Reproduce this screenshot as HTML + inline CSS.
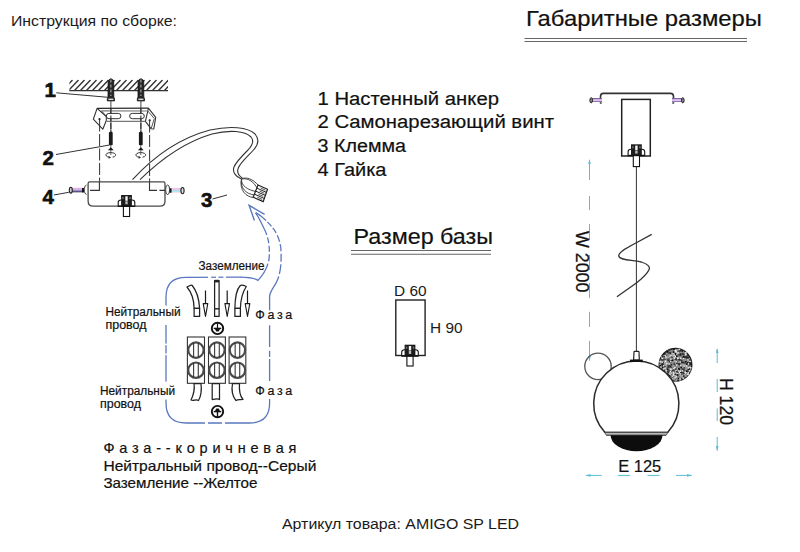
<!DOCTYPE html>
<html><head><meta charset="utf-8">
<style>
html,body{margin:0;padding:0;background:#fff;}
svg{display:block;font-family:"Liberation Sans",sans-serif;}
</style></head><body>
<svg width="800" height="552" viewBox="0 0 800 552">
<rect width="800" height="552" fill="#fff"/>
<line x1="524.5" y1="38.5" x2="747" y2="38.5" stroke="#666" stroke-width="1.1"/>
<line x1="524.5" y1="41.5" x2="747" y2="41.5" stroke="#666" stroke-width="1.1"/>
<line x1="351" y1="250.5" x2="491" y2="250.5" stroke="#666" stroke-width="1.1"/>
<line x1="351" y1="254.2" x2="491" y2="254.2" stroke="#666" stroke-width="1.1"/>
<rect x="395.8" y="300" width="29.3" height="55.5" fill="none" stroke="#222" stroke-width="1.4"/>
<rect x="406.9" y="355.7" width="6.2" height="10.300000000000011" fill="#fff" stroke="#111" stroke-width="1.1"/>
<path d="M401.7,355.9 L401.7,352.2 Q401.7,349.7 404.5,349.7 L415.5,349.7 Q418.3,349.7 418.3,352.2 L418.3,355.9 Z" fill="#fff" stroke="#111" stroke-width="1.1"/>
<rect x="404.6" y="344.7" width="10.8" height="11.5" fill="#1c1c1c"/>
<rect x="408.8" y="346.0" width="2.4" height="4.5" fill="#f4f4f4"/>
<rect x="408.8" y="351.0" width="2.4" height="3.0" fill="#bbb"/>
<rect x="405.8" y="346.7" width="1.4" height="2.0" fill="#777"/>
<rect x="412.8" y="346.7" width="1.4" height="2.0" fill="#777"/>
<line x1="401.7" y1="355.9" x2="418.3" y2="355.9" stroke="#111" stroke-width="1.4"/>
<path d="M600.5,98.5 L600.5,96.5 Q600.5,93.4 603.5,93.4 L670.5,93.4 Q673.5,93.4 673.5,96.5 L673.5,98.5" fill="none" stroke="#333" stroke-width="1.6"/>
<linearGradient id="pg" x1="0" y1="0" x2="0" y2="1"><stop offset="0" stop-color="#4a2a6a"/><stop offset="0.3" stop-color="#c8a8e8"/><stop offset="0.65" stop-color="#e0c8f0"/><stop offset="1" stop-color="#5a3a7a"/></linearGradient>
<linearGradient id="pg2" x1="0" y1="0" x2="0" y2="1"><stop offset="0" stop-color="#f0b0dc"/><stop offset="0.45" stop-color="#c8b4f0"/><stop offset="1" stop-color="#2a2050"/></linearGradient>
<linearGradient id="cg" x1="0" y1="0" x2="0" y2="1"><stop offset="0" stop-color="#f2b8dc"/><stop offset="0.3" stop-color="#f0c8e8"/><stop offset="0.5" stop-color="#a8dcec"/><stop offset="0.8" stop-color="#b8e4f0"/><stop offset="1" stop-color="#e8b0d0"/></linearGradient>
<rect x="591.5" y="98.1" width="10.5" height="3.8" fill="url(#pg)"/>
<ellipse cx="591.2" cy="100.3" rx="1.3" ry="2.6" fill="#888" stroke="#222" stroke-width="1"/>
<ellipse cx="600.8" cy="103" rx="1.2" ry="0.7" fill="#222"/>
<rect x="672" y="98.1" width="10.5" height="3.8" fill="url(#pg)"/>
<ellipse cx="682.8" cy="100.3" rx="1.3" ry="2.6" fill="#888" stroke="#222" stroke-width="1"/>
<ellipse cx="673.2" cy="103" rx="1.2" ry="0.7" fill="#222"/>
<rect x="621.7" y="99.4" width="28.6" height="56.6" fill="none" stroke="#222" stroke-width="1.5"/>
<line x1="636.4" y1="160" x2="636.4" y2="351.5" stroke="#333" stroke-width="1"/>
<rect x="633.3" y="155.3" width="6.2" height="11.299999999999983" fill="#fff" stroke="#111" stroke-width="1.1"/>
<path d="M628.1,155.5 L628.1,151.8 Q628.1,149.3 630.9,149.3 L641.9,149.3 Q644.6999999999999,149.3 644.6999999999999,151.8 L644.6999999999999,155.5 Z" fill="#fff" stroke="#111" stroke-width="1.1"/>
<rect x="631.0" y="144.3" width="10.8" height="11.5" fill="#1c1c1c"/>
<rect x="635.1999999999999" y="145.60000000000002" width="2.4" height="4.5" fill="#f4f4f4"/>
<rect x="635.1999999999999" y="150.60000000000002" width="2.4" height="3.0" fill="#bbb"/>
<rect x="632.1999999999999" y="146.3" width="1.4" height="2.0" fill="#777"/>
<rect x="639.1999999999999" y="146.3" width="1.4" height="2.0" fill="#777"/>
<line x1="628.1" y1="155.5" x2="644.6999999999999" y2="155.5" stroke="#111" stroke-width="1.4"/>
<path d="M651.7,234.4 L636.4,242.7 C628,247.2 618,252 618.8,256.2 C619.6,260.4 633,259.8 641.2,262 C648,264 650.5,267 648.9,270 C647,274 642,278.5 636.4,283 L616.9,296.7" fill="none" stroke="#333" stroke-width="1.3"/>
<line x1="589.5" y1="160" x2="589.5" y2="180" stroke="#5bbcd6" stroke-width="1"/>
<line x1="589.5" y1="196" x2="589.5" y2="210" stroke="#5bbcd6" stroke-width="1"/>
<line x1="589.5" y1="224" x2="589.5" y2="240" stroke="#5bbcd6" stroke-width="1"/>
<line x1="589.5" y1="255" x2="589.5" y2="270" stroke="#5bbcd6" stroke-width="1"/>
<line x1="589.5" y1="283" x2="589.5" y2="298" stroke="#5bbcd6" stroke-width="1"/>
<line x1="589.5" y1="311.8" x2="589.5" y2="327" stroke="#5bbcd6" stroke-width="1"/>
<line x1="589.5" y1="340.8" x2="589.5" y2="360.7" stroke="#5bbcd6" stroke-width="1"/>
<path d="M589.5,159 L588.2,164 L590.8,164 Z" fill="#5bbcd6"/>
<path d="M589.5,361 L588.2,356 L590.8,356 Z" fill="#5bbcd6"/>
<line x1="717.2" y1="349" x2="717.2" y2="363" stroke="#5bbcd6" stroke-width="1"/>
<line x1="717.2" y1="379" x2="717.2" y2="392" stroke="#5bbcd6" stroke-width="1"/>
<line x1="717.2" y1="408.5" x2="717.2" y2="421" stroke="#5bbcd6" stroke-width="1"/>
<line x1="717.2" y1="437" x2="717.2" y2="450.7" stroke="#5bbcd6" stroke-width="1"/>
<path d="M717.2,348 L715.9000000000001,353 L718.5,353 Z" fill="#5bbcd6"/>
<path d="M717.2,451 L715.9000000000001,446 L718.5,446 Z" fill="#5bbcd6"/>
<line x1="586" y1="475.4" x2="601.7" y2="475.4" stroke="#5bbcd6" stroke-width="1"/>
<line x1="618" y1="475.4" x2="630" y2="475.4" stroke="#5bbcd6" stroke-width="1"/>
<line x1="647.5" y1="475.4" x2="659.5" y2="475.4" stroke="#5bbcd6" stroke-width="1"/>
<line x1="676" y1="475.4" x2="691.7" y2="475.4" stroke="#5bbcd6" stroke-width="1"/>
<path d="M585.5,475.4 L590.5,474.09999999999997 L590.5,476.7 Z" fill="#5bbcd6"/>
<path d="M692,475.4 L687,474.09999999999997 L687,476.7 Z" fill="#5bbcd6"/>
<circle cx="598" cy="366.4" r="13.2" fill="none" stroke="#555" stroke-width="1.3"/>
<circle cx="675.5" cy="364.8" r="16.3" fill="#808080" stroke="#222" stroke-width="1.4"/>
<g><rect x="669.0" y="352.6" width="1.6" height="1.6" fill="#999"/><rect x="661.5" y="366.7" width="1.6" height="1.6" fill="#eee"/><rect x="672.0" y="355.5" width="1.6" height="1.6" fill="#eee"/><rect x="672.2" y="374.7" width="1.6" height="1.6" fill="#111"/><rect x="689.3" y="368.3" width="1.6" height="1.6" fill="#eee"/><rect x="689.3" y="366.5" width="1.6" height="1.6" fill="#ddd"/><rect x="676.5" y="352.0" width="1.6" height="1.6" fill="#ddd"/><rect x="668.5" y="374.3" width="1.6" height="1.6" fill="#222"/><rect x="661.8" y="366.3" width="1.6" height="1.6" fill="#222"/><rect x="670.5" y="365.6" width="1.6" height="1.6" fill="#111"/><rect x="676.8" y="367.9" width="1.6" height="1.6" fill="#ddd"/><rect x="680.6" y="361.6" width="1.6" height="1.6" fill="#444"/><rect x="673.6" y="377.8" width="1.6" height="1.6" fill="#444"/><rect x="668.2" y="373.6" width="1.6" height="1.6" fill="#999"/><rect x="668.2" y="363.8" width="1.6" height="1.6" fill="#444"/><rect x="682.2" y="357.1" width="1.6" height="1.6" fill="#111"/><rect x="662.2" y="361.3" width="1.6" height="1.6" fill="#444"/><rect x="663.4" y="363.6" width="1.6" height="1.6" fill="#111"/><rect x="676.6" y="373.4" width="1.6" height="1.6" fill="#444"/><rect x="669.5" y="359.1" width="1.6" height="1.6" fill="#ddd"/><rect x="677.3" y="362.6" width="1.6" height="1.6" fill="#111"/><rect x="689.2" y="363.2" width="1.6" height="1.6" fill="#999"/><rect x="668.5" y="366.5" width="1.6" height="1.6" fill="#999"/><rect x="685.2" y="357.0" width="1.6" height="1.6" fill="#ddd"/><rect x="687.3" y="359.0" width="1.6" height="1.6" fill="#ddd"/><rect x="670.0" y="367.6" width="1.6" height="1.6" fill="#ddd"/><rect x="662.6" y="355.8" width="1.6" height="1.6" fill="#ddd"/><rect x="688.3" y="363.9" width="1.6" height="1.6" fill="#222"/><rect x="673.0" y="365.6" width="1.6" height="1.6" fill="#222"/><rect x="685.1" y="375.9" width="1.6" height="1.6" fill="#444"/><rect x="680.7" y="360.1" width="1.6" height="1.6" fill="#222"/><rect x="663.3" y="353.4" width="1.6" height="1.6" fill="#222"/><rect x="685.5" y="353.6" width="1.6" height="1.6" fill="#444"/><rect x="670.4" y="366.2" width="1.6" height="1.6" fill="#222"/><rect x="680.9" y="364.5" width="1.6" height="1.6" fill="#eee"/><rect x="679.8" y="371.8" width="1.6" height="1.6" fill="#ddd"/><rect x="686.9" y="373.7" width="1.6" height="1.6" fill="#ddd"/><rect x="671.4" y="360.5" width="1.6" height="1.6" fill="#ddd"/><rect x="679.1" y="349.7" width="1.6" height="1.6" fill="#111"/><rect x="662.0" y="367.3" width="1.6" height="1.6" fill="#111"/><rect x="661.7" y="359.6" width="1.6" height="1.6" fill="#111"/><rect x="670.7" y="368.4" width="1.6" height="1.6" fill="#444"/><rect x="678.0" y="363.2" width="1.6" height="1.6" fill="#111"/><rect x="673.6" y="363.5" width="1.6" height="1.6" fill="#111"/><rect x="663.1" y="372.1" width="1.6" height="1.6" fill="#999"/><rect x="667.0" y="374.7" width="1.6" height="1.6" fill="#222"/><rect x="675.2" y="354.4" width="1.6" height="1.6" fill="#eee"/><rect x="670.2" y="370.2" width="1.6" height="1.6" fill="#111"/><rect x="683.1" y="357.4" width="1.6" height="1.6" fill="#999"/><rect x="686.5" y="370.4" width="1.6" height="1.6" fill="#444"/><rect x="675.3" y="377.3" width="1.6" height="1.6" fill="#444"/><rect x="683.6" y="365.1" width="1.6" height="1.6" fill="#eee"/><rect x="669.1" y="355.0" width="1.6" height="1.6" fill="#222"/><rect x="684.7" y="374.4" width="1.6" height="1.6" fill="#999"/><rect x="684.6" y="354.2" width="1.6" height="1.6" fill="#ddd"/><rect x="666.8" y="370.3" width="1.6" height="1.6" fill="#444"/><rect x="673.0" y="378.2" width="1.6" height="1.6" fill="#444"/><rect x="689.5" y="359.6" width="1.6" height="1.6" fill="#222"/><rect x="661.7" y="363.0" width="1.6" height="1.6" fill="#444"/><rect x="665.1" y="368.0" width="1.6" height="1.6" fill="#eee"/><rect x="685.8" y="363.3" width="1.6" height="1.6" fill="#999"/><rect x="669.6" y="368.7" width="1.6" height="1.6" fill="#999"/><rect x="662.3" y="360.4" width="1.6" height="1.6" fill="#999"/><rect x="682.9" y="363.3" width="1.6" height="1.6" fill="#222"/><rect x="672.5" y="368.4" width="1.6" height="1.6" fill="#111"/><rect x="671.3" y="360.8" width="1.6" height="1.6" fill="#111"/><rect x="682.0" y="353.2" width="1.6" height="1.6" fill="#222"/><rect x="659.3" y="367.0" width="1.6" height="1.6" fill="#ddd"/><rect x="684.7" y="352.5" width="1.6" height="1.6" fill="#eee"/><rect x="669.8" y="365.6" width="1.6" height="1.6" fill="#222"/><rect x="682.1" y="351.1" width="1.6" height="1.6" fill="#999"/><rect x="688.8" y="361.8" width="1.6" height="1.6" fill="#222"/><rect x="685.3" y="354.6" width="1.6" height="1.6" fill="#444"/><rect x="665.3" y="364.0" width="1.6" height="1.6" fill="#eee"/><rect x="669.0" y="365.4" width="1.6" height="1.6" fill="#222"/><rect x="687.7" y="369.3" width="1.6" height="1.6" fill="#eee"/><rect x="672.1" y="377.6" width="1.6" height="1.6" fill="#eee"/><rect x="675.0" y="376.2" width="1.6" height="1.6" fill="#222"/><rect x="678.2" y="373.0" width="1.6" height="1.6" fill="#222"/><rect x="664.0" y="363.1" width="1.6" height="1.6" fill="#999"/><rect x="680.6" y="365.0" width="1.6" height="1.6" fill="#ddd"/><rect x="676.7" y="355.8" width="1.6" height="1.6" fill="#444"/><rect x="673.1" y="348.6" width="1.6" height="1.6" fill="#111"/><rect x="672.8" y="367.7" width="1.6" height="1.6" fill="#eee"/><rect x="678.2" y="354.2" width="1.6" height="1.6" fill="#444"/><rect x="673.1" y="365.1" width="1.6" height="1.6" fill="#ddd"/><rect x="675.0" y="355.8" width="1.6" height="1.6" fill="#eee"/><rect x="666.9" y="365.9" width="1.6" height="1.6" fill="#222"/><rect x="662.4" y="362.1" width="1.6" height="1.6" fill="#111"/><rect x="680.3" y="361.7" width="1.6" height="1.6" fill="#222"/><rect x="680.2" y="373.3" width="1.6" height="1.6" fill="#222"/><rect x="689.0" y="368.7" width="1.6" height="1.6" fill="#444"/><rect x="689.5" y="360.7" width="1.6" height="1.6" fill="#ddd"/><rect x="663.7" y="369.5" width="1.6" height="1.6" fill="#222"/><rect x="663.7" y="361.8" width="1.6" height="1.6" fill="#eee"/><rect x="671.6" y="361.4" width="1.6" height="1.6" fill="#444"/><rect x="668.8" y="371.2" width="1.6" height="1.6" fill="#111"/><rect x="669.4" y="362.7" width="1.6" height="1.6" fill="#999"/><rect x="678.7" y="364.4" width="1.6" height="1.6" fill="#111"/><rect x="665.9" y="376.3" width="1.6" height="1.6" fill="#111"/><rect x="683.8" y="356.5" width="1.6" height="1.6" fill="#222"/><rect x="685.1" y="375.4" width="1.6" height="1.6" fill="#999"/><rect x="685.1" y="356.1" width="1.6" height="1.6" fill="#222"/><rect x="675.9" y="364.5" width="1.6" height="1.6" fill="#ddd"/><rect x="681.2" y="350.6" width="1.6" height="1.6" fill="#111"/><rect x="684.5" y="353.7" width="1.6" height="1.6" fill="#111"/><rect x="661.3" y="356.2" width="1.6" height="1.6" fill="#eee"/><rect x="686.5" y="362.5" width="1.6" height="1.6" fill="#444"/><rect x="688.2" y="368.0" width="1.6" height="1.6" fill="#111"/><rect x="675.6" y="355.5" width="1.6" height="1.6" fill="#111"/><rect x="678.9" y="365.0" width="1.6" height="1.6" fill="#222"/><rect x="667.9" y="364.0" width="1.6" height="1.6" fill="#222"/><rect x="667.2" y="373.9" width="1.6" height="1.6" fill="#444"/><rect x="674.9" y="379.6" width="1.6" height="1.6" fill="#eee"/><rect x="673.9" y="378.2" width="1.6" height="1.6" fill="#111"/><rect x="679.9" y="368.9" width="1.6" height="1.6" fill="#999"/><rect x="674.5" y="374.9" width="1.6" height="1.6" fill="#ddd"/><rect x="665.4" y="355.2" width="1.6" height="1.6" fill="#222"/><rect x="685.5" y="370.7" width="1.6" height="1.6" fill="#999"/><rect x="687.1" y="361.7" width="1.6" height="1.6" fill="#111"/><rect x="686.8" y="369.6" width="1.6" height="1.6" fill="#444"/><rect x="677.9" y="370.3" width="1.6" height="1.6" fill="#111"/><rect x="673.4" y="352.8" width="1.6" height="1.6" fill="#ddd"/><rect x="687.2" y="354.8" width="1.6" height="1.6" fill="#222"/><rect x="673.9" y="364.1" width="1.6" height="1.6" fill="#222"/><rect x="666.5" y="373.0" width="1.6" height="1.6" fill="#111"/><rect x="667.0" y="350.6" width="1.6" height="1.6" fill="#ddd"/><rect x="677.5" y="360.5" width="1.6" height="1.6" fill="#444"/><rect x="668.3" y="355.3" width="1.6" height="1.6" fill="#eee"/><rect x="684.0" y="367.1" width="1.6" height="1.6" fill="#444"/><rect x="681.9" y="363.8" width="1.6" height="1.6" fill="#444"/><rect x="682.0" y="368.7" width="1.6" height="1.6" fill="#111"/><rect x="685.3" y="371.0" width="1.6" height="1.6" fill="#eee"/><rect x="678.9" y="371.6" width="1.6" height="1.6" fill="#eee"/><rect x="662.9" y="364.8" width="1.6" height="1.6" fill="#eee"/><rect x="676.9" y="374.2" width="1.6" height="1.6" fill="#111"/><rect x="685.3" y="366.7" width="1.6" height="1.6" fill="#999"/><rect x="680.7" y="370.3" width="1.6" height="1.6" fill="#222"/><rect x="679.2" y="379.0" width="1.6" height="1.6" fill="#ddd"/><rect x="685.6" y="365.9" width="1.6" height="1.6" fill="#999"/><rect x="659.0" y="365.0" width="1.6" height="1.6" fill="#222"/><rect x="684.4" y="372.1" width="1.6" height="1.6" fill="#eee"/><rect x="675.5" y="372.0" width="1.6" height="1.6" fill="#ddd"/><rect x="667.1" y="371.5" width="1.6" height="1.6" fill="#222"/><rect x="665.9" y="368.9" width="1.6" height="1.6" fill="#ddd"/><rect x="674.5" y="360.2" width="1.6" height="1.6" fill="#ddd"/><rect x="688.1" y="357.1" width="1.6" height="1.6" fill="#111"/><rect x="678.5" y="368.7" width="1.6" height="1.6" fill="#111"/><rect x="678.0" y="358.5" width="1.6" height="1.6" fill="#999"/><rect x="682.6" y="357.6" width="1.6" height="1.6" fill="#eee"/><rect x="662.8" y="363.4" width="1.6" height="1.6" fill="#ddd"/><rect x="667.2" y="369.6" width="1.6" height="1.6" fill="#999"/><rect x="665.5" y="363.7" width="1.6" height="1.6" fill="#999"/><rect x="675.2" y="362.8" width="1.6" height="1.6" fill="#ddd"/><rect x="676.3" y="357.9" width="1.6" height="1.6" fill="#111"/><rect x="673.4" y="374.4" width="1.6" height="1.6" fill="#ddd"/><rect x="682.8" y="356.2" width="1.6" height="1.6" fill="#444"/><rect x="675.0" y="376.6" width="1.6" height="1.6" fill="#999"/><rect x="670.3" y="363.9" width="1.6" height="1.6" fill="#ddd"/><rect x="671.2" y="352.9" width="1.6" height="1.6" fill="#ddd"/><rect x="680.6" y="360.9" width="1.6" height="1.6" fill="#999"/><rect x="663.0" y="358.9" width="1.6" height="1.6" fill="#444"/><rect x="662.3" y="358.5" width="1.6" height="1.6" fill="#444"/><rect x="682.9" y="375.1" width="1.6" height="1.6" fill="#111"/><rect x="671.1" y="376.1" width="1.6" height="1.6" fill="#111"/><rect x="670.2" y="361.7" width="1.6" height="1.6" fill="#444"/><rect x="686.2" y="356.8" width="1.6" height="1.6" fill="#111"/><rect x="685.6" y="357.0" width="1.6" height="1.6" fill="#222"/><rect x="666.5" y="356.4" width="1.6" height="1.6" fill="#eee"/><rect x="668.7" y="372.9" width="1.6" height="1.6" fill="#ddd"/><rect x="679.0" y="377.5" width="1.6" height="1.6" fill="#eee"/><rect x="676.3" y="371.2" width="1.6" height="1.6" fill="#111"/><rect x="688.8" y="361.1" width="1.6" height="1.6" fill="#eee"/><rect x="682.9" y="368.7" width="1.6" height="1.6" fill="#444"/><rect x="674.2" y="377.4" width="1.6" height="1.6" fill="#eee"/><rect x="662.6" y="363.1" width="1.6" height="1.6" fill="#444"/><rect x="667.6" y="356.0" width="1.6" height="1.6" fill="#999"/><rect x="679.8" y="357.5" width="1.6" height="1.6" fill="#eee"/><rect x="680.2" y="351.6" width="1.6" height="1.6" fill="#999"/><rect x="663.7" y="354.5" width="1.6" height="1.6" fill="#ddd"/><rect x="676.3" y="362.5" width="1.6" height="1.6" fill="#444"/><rect x="663.0" y="354.0" width="1.6" height="1.6" fill="#111"/><rect x="664.1" y="365.8" width="1.6" height="1.6" fill="#444"/><rect x="666.2" y="356.1" width="1.6" height="1.6" fill="#eee"/><rect x="686.8" y="360.2" width="1.6" height="1.6" fill="#999"/><rect x="675.5" y="360.0" width="1.6" height="1.6" fill="#444"/><rect x="682.9" y="363.9" width="1.6" height="1.6" fill="#eee"/><rect x="674.8" y="368.2" width="1.6" height="1.6" fill="#222"/><rect x="670.9" y="368.8" width="1.6" height="1.6" fill="#ddd"/><rect x="687.6" y="363.1" width="1.6" height="1.6" fill="#eee"/><rect x="674.4" y="350.1" width="1.6" height="1.6" fill="#eee"/><rect x="666.5" y="351.3" width="1.6" height="1.6" fill="#222"/><rect x="681.3" y="375.3" width="1.6" height="1.6" fill="#ddd"/><rect x="677.0" y="348.9" width="1.6" height="1.6" fill="#999"/><rect x="668.3" y="351.9" width="1.6" height="1.6" fill="#444"/><rect x="675.6" y="362.0" width="1.6" height="1.6" fill="#111"/><rect x="661.6" y="357.5" width="1.6" height="1.6" fill="#eee"/><rect x="664.6" y="356.2" width="1.6" height="1.6" fill="#eee"/><rect x="668.7" y="375.1" width="1.6" height="1.6" fill="#222"/><rect x="673.9" y="355.4" width="1.6" height="1.6" fill="#222"/><rect x="659.4" y="361.1" width="1.6" height="1.6" fill="#999"/><rect x="674.6" y="369.7" width="1.6" height="1.6" fill="#ddd"/><rect x="672.2" y="359.8" width="1.6" height="1.6" fill="#ddd"/><rect x="672.1" y="370.0" width="1.6" height="1.6" fill="#222"/><rect x="674.6" y="354.2" width="1.6" height="1.6" fill="#222"/><rect x="665.9" y="354.9" width="1.6" height="1.6" fill="#444"/><rect x="662.0" y="368.0" width="1.6" height="1.6" fill="#eee"/><rect x="664.5" y="355.0" width="1.6" height="1.6" fill="#ddd"/><rect x="677.8" y="377.8" width="1.6" height="1.6" fill="#111"/><rect x="660.4" y="360.5" width="1.6" height="1.6" fill="#999"/><rect x="687.2" y="371.6" width="1.6" height="1.6" fill="#111"/><rect x="688.8" y="358.4" width="1.6" height="1.6" fill="#222"/><rect x="679.7" y="364.8" width="1.6" height="1.6" fill="#ddd"/><rect x="670.7" y="359.9" width="1.6" height="1.6" fill="#444"/><rect x="672.8" y="351.3" width="1.6" height="1.6" fill="#111"/><rect x="667.5" y="359.2" width="1.6" height="1.6" fill="#111"/><rect x="676.7" y="372.4" width="1.6" height="1.6" fill="#ddd"/><rect x="670.0" y="374.5" width="1.6" height="1.6" fill="#ddd"/><rect x="661.3" y="370.7" width="1.6" height="1.6" fill="#222"/><rect x="670.6" y="377.7" width="1.6" height="1.6" fill="#222"/><rect x="668.9" y="371.7" width="1.6" height="1.6" fill="#ddd"/><rect x="659.4" y="361.1" width="1.6" height="1.6" fill="#999"/><rect x="682.8" y="377.0" width="1.6" height="1.6" fill="#444"/><rect x="670.2" y="358.6" width="1.6" height="1.6" fill="#eee"/><rect x="680.9" y="377.8" width="1.6" height="1.6" fill="#444"/><rect x="688.3" y="368.4" width="1.6" height="1.6" fill="#111"/><rect x="673.9" y="378.9" width="1.6" height="1.6" fill="#ddd"/><rect x="685.0" y="352.0" width="1.6" height="1.6" fill="#ddd"/><rect x="664.4" y="373.9" width="1.6" height="1.6" fill="#999"/><rect x="668.3" y="370.3" width="1.6" height="1.6" fill="#222"/><rect x="678.2" y="358.4" width="1.6" height="1.6" fill="#444"/><rect x="673.4" y="373.3" width="1.6" height="1.6" fill="#eee"/><rect x="682.9" y="355.8" width="1.6" height="1.6" fill="#111"/><rect x="679.6" y="363.4" width="1.6" height="1.6" fill="#eee"/><rect x="667.0" y="350.4" width="1.6" height="1.6" fill="#111"/><rect x="662.7" y="362.7" width="1.6" height="1.6" fill="#999"/><rect x="666.1" y="365.3" width="1.6" height="1.6" fill="#999"/><rect x="683.2" y="373.1" width="1.6" height="1.6" fill="#444"/><rect x="668.0" y="366.2" width="1.6" height="1.6" fill="#444"/><rect x="666.7" y="356.2" width="1.6" height="1.6" fill="#ddd"/><rect x="666.5" y="355.7" width="1.6" height="1.6" fill="#222"/><rect x="667.6" y="377.3" width="1.6" height="1.6" fill="#222"/><rect x="669.0" y="360.6" width="1.6" height="1.6" fill="#222"/><rect x="674.9" y="355.2" width="1.6" height="1.6" fill="#111"/><rect x="661.7" y="363.2" width="1.6" height="1.6" fill="#222"/><rect x="690.1" y="366.7" width="1.6" height="1.6" fill="#111"/><rect x="670.5" y="375.9" width="1.6" height="1.6" fill="#ddd"/><rect x="678.1" y="373.0" width="1.6" height="1.6" fill="#999"/><rect x="677.8" y="367.9" width="1.6" height="1.6" fill="#222"/><rect x="685.1" y="361.0" width="1.6" height="1.6" fill="#444"/><rect x="664.4" y="357.9" width="1.6" height="1.6" fill="#222"/><rect x="659.4" y="363.9" width="1.6" height="1.6" fill="#ddd"/><rect x="671.3" y="365.6" width="1.6" height="1.6" fill="#999"/><rect x="675.8" y="369.0" width="1.6" height="1.6" fill="#ddd"/><rect x="681.1" y="361.1" width="1.6" height="1.6" fill="#444"/><rect x="680.2" y="361.3" width="1.6" height="1.6" fill="#111"/><rect x="668.6" y="366.2" width="1.6" height="1.6" fill="#444"/><rect x="683.4" y="373.9" width="1.6" height="1.6" fill="#999"/><rect x="664.8" y="371.4" width="1.6" height="1.6" fill="#222"/><rect x="689.1" y="361.9" width="1.6" height="1.6" fill="#222"/><rect x="672.2" y="374.4" width="1.6" height="1.6" fill="#ddd"/><rect x="677.2" y="359.6" width="1.6" height="1.6" fill="#222"/><rect x="663.0" y="374.0" width="1.6" height="1.6" fill="#ddd"/><rect x="661.3" y="368.0" width="1.6" height="1.6" fill="#444"/><rect x="682.4" y="353.3" width="1.6" height="1.6" fill="#444"/><rect x="667.6" y="364.7" width="1.6" height="1.6" fill="#111"/><rect x="661.9" y="363.7" width="1.6" height="1.6" fill="#222"/><rect x="668.2" y="375.0" width="1.6" height="1.6" fill="#111"/><rect x="690.2" y="363.4" width="1.6" height="1.6" fill="#111"/><rect x="678.2" y="368.4" width="1.6" height="1.6" fill="#111"/><rect x="687.9" y="367.9" width="1.6" height="1.6" fill="#222"/><rect x="679.3" y="375.6" width="1.6" height="1.6" fill="#eee"/><rect x="671.6" y="375.3" width="1.6" height="1.6" fill="#ddd"/><rect x="664.4" y="354.8" width="1.6" height="1.6" fill="#ddd"/><rect x="670.1" y="352.6" width="1.6" height="1.6" fill="#999"/><rect x="685.0" y="354.0" width="1.6" height="1.6" fill="#eee"/><rect x="685.9" y="369.6" width="1.6" height="1.6" fill="#999"/><rect x="677.9" y="365.6" width="1.6" height="1.6" fill="#999"/><rect x="683.8" y="368.9" width="1.6" height="1.6" fill="#444"/><rect x="677.4" y="361.6" width="1.6" height="1.6" fill="#999"/><rect x="670.4" y="364.1" width="1.6" height="1.6" fill="#222"/><rect x="674.4" y="355.4" width="1.6" height="1.6" fill="#eee"/><rect x="683.8" y="362.6" width="1.6" height="1.6" fill="#222"/><rect x="684.8" y="360.8" width="1.6" height="1.6" fill="#111"/><rect x="662.6" y="361.7" width="1.6" height="1.6" fill="#111"/><rect x="684.6" y="364.1" width="1.6" height="1.6" fill="#999"/><rect x="659.7" y="368.4" width="1.6" height="1.6" fill="#111"/><rect x="688.5" y="357.9" width="1.6" height="1.6" fill="#999"/><rect x="675.1" y="349.5" width="1.6" height="1.6" fill="#eee"/><rect x="687.6" y="369.0" width="1.6" height="1.6" fill="#222"/><rect x="678.4" y="370.3" width="1.6" height="1.6" fill="#111"/><rect x="674.4" y="378.9" width="1.6" height="1.6" fill="#222"/><rect x="680.8" y="371.2" width="1.6" height="1.6" fill="#222"/><rect x="660.5" y="359.1" width="1.6" height="1.6" fill="#444"/><rect x="667.4" y="374.3" width="1.6" height="1.6" fill="#222"/><rect x="674.1" y="367.0" width="1.6" height="1.6" fill="#eee"/><rect x="674.9" y="358.1" width="1.6" height="1.6" fill="#111"/><rect x="664.9" y="360.9" width="1.6" height="1.6" fill="#999"/><rect x="688.9" y="369.9" width="1.6" height="1.6" fill="#ddd"/><rect x="663.9" y="373.3" width="1.6" height="1.6" fill="#111"/><rect x="673.2" y="364.7" width="1.6" height="1.6" fill="#999"/><rect x="671.3" y="373.7" width="1.6" height="1.6" fill="#444"/><rect x="670.6" y="359.7" width="1.6" height="1.6" fill="#222"/><rect x="670.1" y="372.6" width="1.6" height="1.6" fill="#ddd"/><rect x="665.9" y="367.8" width="1.6" height="1.6" fill="#111"/><rect x="668.1" y="364.5" width="1.6" height="1.6" fill="#444"/><rect x="677.5" y="369.3" width="1.6" height="1.6" fill="#444"/><rect x="682.3" y="372.1" width="1.6" height="1.6" fill="#222"/><rect x="663.3" y="367.8" width="1.6" height="1.6" fill="#ddd"/><rect x="672.0" y="359.6" width="1.6" height="1.6" fill="#111"/><rect x="662.7" y="355.1" width="1.6" height="1.6" fill="#999"/><rect x="676.9" y="357.6" width="1.6" height="1.6" fill="#eee"/><rect x="670.0" y="355.0" width="1.6" height="1.6" fill="#eee"/><rect x="668.2" y="352.1" width="1.6" height="1.6" fill="#444"/><rect x="678.7" y="363.2" width="1.6" height="1.6" fill="#222"/><rect x="681.5" y="362.4" width="1.6" height="1.6" fill="#111"/><rect x="679.2" y="376.1" width="1.6" height="1.6" fill="#444"/><rect x="671.5" y="356.3" width="1.6" height="1.6" fill="#111"/><rect x="687.5" y="367.1" width="1.6" height="1.6" fill="#eee"/><rect x="672.9" y="378.3" width="1.6" height="1.6" fill="#999"/><rect x="674.5" y="353.1" width="1.6" height="1.6" fill="#111"/><rect x="659.8" y="365.0" width="1.6" height="1.6" fill="#ddd"/><rect x="664.5" y="352.9" width="1.6" height="1.6" fill="#111"/><rect x="664.9" y="367.5" width="1.6" height="1.6" fill="#eee"/><rect x="679.5" y="361.2" width="1.6" height="1.6" fill="#eee"/><rect x="664.1" y="357.8" width="1.6" height="1.6" fill="#444"/><rect x="682.0" y="363.3" width="1.6" height="1.6" fill="#eee"/><rect x="682.7" y="362.9" width="1.6" height="1.6" fill="#999"/><rect x="679.8" y="353.4" width="1.6" height="1.6" fill="#111"/><rect x="666.9" y="368.7" width="1.6" height="1.6" fill="#111"/><rect x="669.3" y="372.1" width="1.6" height="1.6" fill="#999"/><rect x="660.1" y="368.4" width="1.6" height="1.6" fill="#999"/><rect x="672.6" y="373.4" width="1.6" height="1.6" fill="#eee"/><rect x="661.2" y="364.2" width="1.6" height="1.6" fill="#222"/><rect x="666.9" y="355.4" width="1.6" height="1.6" fill="#999"/><rect x="665.0" y="352.9" width="1.6" height="1.6" fill="#444"/><rect x="664.7" y="360.4" width="1.6" height="1.6" fill="#eee"/><rect x="666.2" y="377.3" width="1.6" height="1.6" fill="#999"/><rect x="685.8" y="365.2" width="1.6" height="1.6" fill="#ddd"/><rect x="685.8" y="370.4" width="1.6" height="1.6" fill="#111"/><rect x="672.7" y="371.3" width="1.6" height="1.6" fill="#eee"/><rect x="687.2" y="373.4" width="1.6" height="1.6" fill="#ddd"/><rect x="678.7" y="350.2" width="1.6" height="1.6" fill="#222"/><rect x="669.6" y="352.3" width="1.6" height="1.6" fill="#111"/><rect x="679.4" y="349.1" width="1.6" height="1.6" fill="#111"/><rect x="677.6" y="359.5" width="1.6" height="1.6" fill="#eee"/><rect x="684.9" y="368.4" width="1.6" height="1.6" fill="#999"/><rect x="679.0" y="363.3" width="1.6" height="1.6" fill="#222"/><rect x="661.6" y="372.4" width="1.6" height="1.6" fill="#222"/><rect x="668.0" y="358.7" width="1.6" height="1.6" fill="#444"/><rect x="667.6" y="371.0" width="1.6" height="1.6" fill="#444"/><rect x="678.0" y="363.2" width="1.6" height="1.6" fill="#444"/><rect x="678.6" y="348.7" width="1.6" height="1.6" fill="#ddd"/><rect x="659.4" y="364.6" width="1.6" height="1.6" fill="#111"/><rect x="669.7" y="370.7" width="1.6" height="1.6" fill="#eee"/><rect x="676.9" y="371.0" width="1.6" height="1.6" fill="#111"/><rect x="677.1" y="357.1" width="1.6" height="1.6" fill="#ddd"/><rect x="674.4" y="373.7" width="1.6" height="1.6" fill="#222"/><rect x="689.9" y="367.0" width="1.6" height="1.6" fill="#eee"/><rect x="667.6" y="354.7" width="1.6" height="1.6" fill="#999"/><rect x="665.9" y="353.1" width="1.6" height="1.6" fill="#999"/><rect x="683.4" y="363.7" width="1.6" height="1.6" fill="#999"/><rect x="676.7" y="351.1" width="1.6" height="1.6" fill="#444"/><rect x="670.0" y="360.8" width="1.6" height="1.6" fill="#ddd"/><rect x="687.5" y="372.0" width="1.6" height="1.6" fill="#ddd"/><rect x="665.1" y="356.3" width="1.6" height="1.6" fill="#eee"/><rect x="674.7" y="360.1" width="1.6" height="1.6" fill="#999"/><rect x="666.0" y="362.7" width="1.6" height="1.6" fill="#eee"/><rect x="677.8" y="370.2" width="1.6" height="1.6" fill="#eee"/><rect x="679.5" y="359.1" width="1.6" height="1.6" fill="#444"/><rect x="675.4" y="376.0" width="1.6" height="1.6" fill="#ddd"/><rect x="680.0" y="371.9" width="1.6" height="1.6" fill="#222"/><rect x="673.5" y="370.2" width="1.6" height="1.6" fill="#444"/><rect x="677.3" y="351.8" width="1.6" height="1.6" fill="#ddd"/><rect x="679.4" y="370.4" width="1.6" height="1.6" fill="#eee"/><rect x="664.6" y="357.5" width="1.6" height="1.6" fill="#999"/><rect x="685.3" y="367.8" width="1.6" height="1.6" fill="#999"/><rect x="663.5" y="355.8" width="1.6" height="1.6" fill="#444"/><rect x="678.1" y="359.1" width="1.6" height="1.6" fill="#222"/><rect x="669.1" y="353.9" width="1.6" height="1.6" fill="#999"/><rect x="679.8" y="354.1" width="1.6" height="1.6" fill="#222"/><rect x="682.3" y="361.9" width="1.6" height="1.6" fill="#222"/><rect x="667.6" y="376.6" width="1.6" height="1.6" fill="#ddd"/><rect x="659.5" y="360.7" width="1.6" height="1.6" fill="#ddd"/><rect x="681.0" y="364.0" width="1.6" height="1.6" fill="#999"/><rect x="666.8" y="371.8" width="1.6" height="1.6" fill="#111"/><rect x="682.6" y="377.3" width="1.6" height="1.6" fill="#ddd"/><rect x="681.3" y="366.9" width="1.6" height="1.6" fill="#999"/><rect x="672.1" y="355.2" width="1.6" height="1.6" fill="#999"/><rect x="679.7" y="376.3" width="1.6" height="1.6" fill="#999"/><rect x="681.2" y="375.5" width="1.6" height="1.6" fill="#999"/><rect x="672.5" y="356.2" width="1.6" height="1.6" fill="#999"/><rect x="661.6" y="361.4" width="1.6" height="1.6" fill="#ddd"/><rect x="681.6" y="368.2" width="1.6" height="1.6" fill="#444"/><rect x="686.1" y="363.4" width="1.6" height="1.6" fill="#111"/><rect x="678.7" y="361.0" width="1.6" height="1.6" fill="#999"/><rect x="680.0" y="376.2" width="1.6" height="1.6" fill="#999"/><rect x="661.9" y="355.9" width="1.6" height="1.6" fill="#222"/><rect x="663.6" y="373.2" width="1.6" height="1.6" fill="#222"/><rect x="675.3" y="351.0" width="1.6" height="1.6" fill="#eee"/><rect x="673.3" y="354.4" width="1.6" height="1.6" fill="#ddd"/><rect x="675.1" y="368.5" width="1.6" height="1.6" fill="#444"/><rect x="675.4" y="361.1" width="1.6" height="1.6" fill="#ddd"/><rect x="665.2" y="370.0" width="1.6" height="1.6" fill="#ddd"/><rect x="675.1" y="378.1" width="1.6" height="1.6" fill="#999"/><rect x="672.0" y="361.4" width="1.6" height="1.6" fill="#999"/><rect x="680.4" y="366.6" width="1.6" height="1.6" fill="#111"/><rect x="665.7" y="371.9" width="1.6" height="1.6" fill="#eee"/><rect x="689.7" y="362.8" width="1.6" height="1.6" fill="#222"/><rect x="662.6" y="373.0" width="1.6" height="1.6" fill="#999"/><rect x="664.7" y="368.6" width="1.6" height="1.6" fill="#999"/><rect x="669.9" y="368.5" width="1.6" height="1.6" fill="#ddd"/><rect x="673.7" y="357.3" width="1.6" height="1.6" fill="#eee"/><rect x="679.6" y="373.1" width="1.6" height="1.6" fill="#ddd"/><rect x="670.0" y="375.4" width="1.6" height="1.6" fill="#444"/><rect x="681.4" y="370.1" width="1.6" height="1.6" fill="#ddd"/><rect x="680.5" y="363.4" width="1.6" height="1.6" fill="#999"/><rect x="684.4" y="359.4" width="1.6" height="1.6" fill="#999"/><rect x="668.2" y="363.3" width="1.6" height="1.6" fill="#ddd"/><rect x="678.7" y="350.5" width="1.6" height="1.6" fill="#444"/></g>
<path d="M605,432.5 A42.6,42.6 0 1 1 667.6,432.5 Z" fill="#fff" stroke="#2a2a2a" stroke-width="1.5"/>
<linearGradient id="bandg" x1="0" y1="0" x2="0" y2="1"><stop offset="0" stop-color="#666"/><stop offset="0.5" stop-color="#ccc"/><stop offset="1" stop-color="#555"/></linearGradient>
<path d="M604.5,432.2 L668,432.2 L666,435.4 L606.5,435.4 Z" fill="url(#bandg)" stroke="#333" stroke-width="0.7"/>
<path d="M610.6,435.3 L662.5,435.3 A25.95,16 0 0 1 610.6,435.3 Z" fill="#0d0d0d"/>
<path d="M633.6,360 L634,352 Q634,351.3 634.8,351.3 L638.2,351.3 Q639,351.3 639,352 L639.3,360 Z" fill="#fff" stroke="#222" stroke-width="1.2"/>
<rect x="630" y="359.6" width="12.8" height="2.4" fill="#111"/>
<clipPath id="hc"><rect x="69.4" y="79.5" width="98.6" height="11"/></clipPath>
<g clip-path="url(#hc)" stroke="#333" stroke-width="1.4"><line x1="62" y1="91" x2="72.5" y2="80" /><line x1="68" y1="91" x2="78.5" y2="80" /><line x1="74" y1="91" x2="84.5" y2="80" /><line x1="80" y1="91" x2="90.5" y2="80" /><line x1="86" y1="91" x2="96.5" y2="80" /><line x1="92" y1="91" x2="102.5" y2="80" /><line x1="98" y1="91" x2="108.5" y2="80" /><line x1="104" y1="91" x2="114.5" y2="80" /><line x1="110" y1="91" x2="120.5" y2="80" /><line x1="116" y1="91" x2="126.5" y2="80" /><line x1="122" y1="91" x2="132.5" y2="80" /><line x1="128" y1="91" x2="138.5" y2="80" /><line x1="134" y1="91" x2="144.5" y2="80" /><line x1="140" y1="91" x2="150.5" y2="80" /><line x1="146" y1="91" x2="156.5" y2="80" /><line x1="152" y1="91" x2="162.5" y2="80" /><line x1="158" y1="91" x2="168.5" y2="80" /><line x1="164" y1="91" x2="174.5" y2="80" /><line x1="170" y1="91" x2="180.5" y2="80" /><line x1="176" y1="91" x2="186.5" y2="80" /></g>
<line x1="69.4" y1="90.6" x2="168" y2="90.6" stroke="#333" stroke-width="1.3"/>
<path d="M108.10000000000001,81 Q110.9,76.5 113.7,81 L113.80000000000001,97 L114.5,98.8 L114.5,100.9 L107.30000000000001,100.9 L107.30000000000001,98.8 L108.0,97 Z" fill="#262626" stroke="#111" stroke-width="0.8"/>
<path d="M110.9,79.5 L110.9,96" stroke="#bbb" stroke-width="1" stroke-dasharray="3 2"/>
<rect x="108.4" y="98.6" width="5" height="1.5" fill="#ddd"/>
<line x1="110.9" y1="101" x2="110.9" y2="132" stroke="#333" stroke-width="0.9"/>
<path d="M138.1,81 Q140.9,76.5 143.70000000000002,81 L143.8,97 L144.5,98.8 L144.5,100.9 L137.3,100.9 L137.3,98.8 L138.0,97 Z" fill="#262626" stroke="#111" stroke-width="0.8"/>
<path d="M140.9,79.5 L140.9,96" stroke="#bbb" stroke-width="1" stroke-dasharray="3 2"/>
<rect x="138.4" y="98.6" width="5" height="1.5" fill="#ddd"/>
<line x1="140.9" y1="101" x2="140.9" y2="132" stroke="#333" stroke-width="0.9"/>
<line x1="56.3" y1="92.8" x2="108" y2="97.3" stroke="#333" stroke-width="1"/>
<path d="M97.1,108.4 L93.3,119.2 L102.8,129.2 L106.3,120.5 L106.3,116.5 Z" fill="#fff" stroke="#333" stroke-width="1.1" stroke-linejoin="round"/>
<path d="M101.4,110.8 L106.3,116.2" fill="none" stroke="#444" stroke-width="1"/>
<path d="M148.4,108.2 L155.7,117.3 L153.8,129 L151,128.7 L145.4,121.4 L147.8,111 Z" fill="#fff" stroke="#333" stroke-width="1.1" stroke-linejoin="round"/>
<path d="M147.8,111 L154.3,118.6 L151.2,128.5" fill="none" stroke="#555" stroke-width="1"/>
<path d="M97.1,108.4 L148.4,108.2" fill="none" stroke="#2a2a2a" stroke-width="1.3"/>
<path d="M101.4,110.9 L147.8,111" fill="none" stroke="#777" stroke-width="1.2"/>
<path d="M106.3,121.4 L145.4,121.4" fill="none" stroke="#777" stroke-width="1.3"/>
<rect x="106.3" y="113.4" width="14.6" height="5.3" rx="2.65" fill="#fff" stroke="#333" stroke-width="1"/>
<rect x="129.6" y="113.4" width="14.7" height="5.3" rx="2.65" fill="#fff" stroke="#333" stroke-width="1"/>
<circle cx="99.5" cy="119.2" r="1.1" fill="#222"/>
<circle cx="149.7" cy="120.3" r="1.1" fill="#222"/>
<line x1="110.9" y1="108" x2="110.9" y2="132" stroke="#222" stroke-width="1" stroke-dasharray="6 1.5"/>
<line x1="140.9" y1="108" x2="140.9" y2="132" stroke="#222" stroke-width="1" stroke-dasharray="6 1.5"/>
<line x1="99.6" y1="119.5" x2="99.6" y2="182" stroke="#333" stroke-width="1" stroke-dasharray="12 2.5"/>
<line x1="149.6" y1="120.5" x2="149.6" y2="182" stroke="#333" stroke-width="1" stroke-dasharray="12 2.5"/>
<rect x="108.89999999999999" y="132" width="3.8" height="13.2" rx="0.8" fill="#1a1a1a"/>
<line x1="110.8" y1="145" x2="110.8" y2="155" stroke="#444" stroke-width="0.8"/>
<path d="M110.8,147.3 L107.89999999999999,150.3 L113.7,150.3 Z" fill="#1a1a1a"/>
<path d="M109.6,157.3 A4.9,2.4 0 1 1 112.6,157.2" fill="none" stroke="#333" stroke-width="1"/>
<path d="M108.6,156 L111.1,157.5 L108.6,158.8 Z" fill="#333"/>
<rect x="138.9" y="132" width="3.8" height="13.2" rx="0.8" fill="#1a1a1a"/>
<line x1="140.8" y1="145" x2="140.8" y2="155" stroke="#444" stroke-width="0.8"/>
<path d="M140.8,147.3 L137.9,150.3 L143.70000000000002,150.3 Z" fill="#1a1a1a"/>
<path d="M139.60000000000002,157.3 A4.9,2.4 0 1 1 142.60000000000002,157.2" fill="none" stroke="#333" stroke-width="1"/>
<path d="M138.60000000000002,156 L141.10000000000002,157.5 L138.60000000000002,158.8 Z" fill="#333"/>
<line x1="56" y1="154.5" x2="109.5" y2="145" stroke="#333" stroke-width="1"/>
<path d="M132.5,179.7 C155,155 180,138 210,130 C230,125.5 248,127 255,134 C259.5,139 258,145 253.5,150 C248,156 241,162 238.5,167.5 C236.5,172 239,176 242.5,178.2" fill="none" stroke="#333" stroke-width="1.1"/>
<path d="M140,179.7 C162,158 185,142 212,134 C230,129.5 245,131 251,137 C254.5,141 253,145 247.5,150.5 C242,156 236,162 234,167 C232,172 236,177 241.5,179" fill="none" stroke="#333" stroke-width="1.1"/>
<path d="M88.1,183.5 Q88.1,181.9 89.7,181.9 L163.4,181.9 Q165,181.9 165,183.5 L165,201 Q165,206.2 159.8,206.2 L93.3,206.2 Q88.1,206.2 88.1,201 Z" fill="none" stroke="#4a4a4a" stroke-width="1.3"/>
<path d="M99.4,182 L99.4,190.4 L90,190.4" fill="none" stroke="#333" stroke-width="1.1"/>
<path d="M149.5,182 L149.5,190.4 L157,190.4 M159.5,190.4 L165,190.4" fill="none" stroke="#333" stroke-width="1.1"/>
<rect x="123.4" y="206.0" width="6.2" height="10.5" fill="#fff" stroke="#111" stroke-width="1.1"/>
<path d="M118.2,206.2 L118.2,202.5 Q118.2,200.0 121.0,200.0 L132.0,200.0 Q134.8,200.0 134.8,202.5 L134.8,206.2 Z" fill="#fff" stroke="#111" stroke-width="1.1"/>
<rect x="121.1" y="195" width="10.8" height="11.5" fill="#1c1c1c"/>
<rect x="125.3" y="196.3" width="2.4" height="4.5" fill="#f4f4f4"/>
<rect x="125.3" y="201.3" width="2.4" height="3.0" fill="#bbb"/>
<rect x="122.3" y="197.0" width="1.4" height="2.0" fill="#777"/>
<rect x="129.3" y="197.0" width="1.4" height="2.0" fill="#777"/>
<line x1="118.2" y1="206.2" x2="134.8" y2="206.2" stroke="#111" stroke-width="1.4"/>
<rect x="72" y="187.8" width="11.6" height="4.5" fill="url(#pg2)"/>
<ellipse cx="70.8" cy="190.2" rx="1.5" ry="2.9" fill="#ccc" stroke="#222" stroke-width="1.1"/>
<rect x="82" y="188" width="2" height="4.4" fill="#111"/>
<path d="M86.5,185 C83.5,186 83.5,193.5 86.5,194.6" fill="#fff" stroke="#333" stroke-width="1"/>
<rect x="171" y="188" width="10.8" height="4.4" fill="url(#cg)"/>
<ellipse cx="182.5" cy="190.6" rx="1.6" ry="3.1" fill="#ddd" stroke="#222" stroke-width="1.1"/>
<rect x="169.2" y="188.3" width="2.3" height="4.4" fill="#111"/>
<ellipse cx="167.6" cy="189.8" rx="2" ry="4.8" fill="#fff" stroke="#333" stroke-width="1"/>
<line x1="53.8" y1="195" x2="68.8" y2="192.3" stroke="#333" stroke-width="1"/>
<line x1="212.5" y1="199" x2="227" y2="195" stroke="#333" stroke-width="1"/>
<g stroke="#333" stroke-width="0.9" fill="none"><path d="M241.5,179 C246,176.5 253,179 258.5,185.5"/><path d="M241.5,179 C248,177.5 254,182 257.3,188.5"/><path d="M241.5,179 C241,186 248,190 256,191.5"/><path d="M241.5,179 C240,188 246,194 254.5,195"/><path d="M241.5,179 C239,190 246,197 253.5,197.5"/></g>
<path d="M258,185 L267.5,189.3 L263.2,201.6 L253.2,197.2 Z" fill="#fff" stroke="#222" stroke-width="1.2"/>
<line x1="256.8" y1="188.1" x2="266.4" y2="192.4" stroke="#222" stroke-width="1"/>
<line x1="255.6" y1="191.1" x2="265.4" y2="195.4" stroke="#222" stroke-width="1"/>
<line x1="254.4" y1="194.1" x2="264.3" y2="198.5" stroke="#222" stroke-width="1"/>
<line x1="260.7" y1="188.0" x2="265.5" y2="190.2" stroke="#555" stroke-width="1"/>
<line x1="259.6" y1="191.1" x2="264.4" y2="193.3" stroke="#555" stroke-width="1"/>
<line x1="258.4" y1="194.2" x2="263.3" y2="196.3" stroke="#555" stroke-width="1"/>
<line x1="257.3" y1="197.2" x2="262.2" y2="199.4" stroke="#555" stroke-width="1"/>
<path d="M255.5,212.8 C258,216 261,222 263.7,227.8 C268,236 270,245 269.2,257 C268.5,266 264,274 258,280.4 C254,277.8 249,277.2 240,277.1" fill="none" stroke="#5a78bf" stroke-width="1.3" stroke-dasharray="25 2.5 6 2.5 6 2.5 7 2.5 120"/>
<path d="M255.8,212.6 C262,216 267,221 272,227 C277,233 280,240 280.9,249 C281.5,262 281,272 277,281 C275,286 270.5,290 269.6,296" fill="none" stroke="#5a78bf" stroke-width="1.3" stroke-dasharray="13 2 6 2 6 2.5 7 2.5 7 2.5 8 2.5 10 2.5 30"/>
<path d="M254.4,220.5 L249.1,205.4 L264.6,214.4" fill="none" stroke="#5a78bf" stroke-width="1.4" stroke-linejoin="miter"/>
<path d="M240.5,277.1 L186,277.3 Q166,277.3 166,297 L166,403 Q166,423 186,423 L249.6,423 Q269.6,423 269.6,403 L269.6,296" fill="none" stroke="#5a78bf" stroke-width="1.3"/>
<rect x="208" y="275" width="3.2" height="5" fill="#fff"/>
<rect x="216" y="275" width="2.5" height="5" fill="#fff"/>
<rect x="223.4" y="275" width="2.5" height="5" fill="#fff"/>
<rect x="164" y="343.6" width="4" height="1.6" fill="#fff"/>
<rect x="164" y="353.5" width="4" height="1.6" fill="#fff"/>
<rect x="205" y="421" width="3" height="5" fill="#fff"/>
<rect x="222" y="421" width="3" height="5" fill="#fff"/>
<rect x="267.6" y="347" width="4" height="3.8" fill="#fff"/>
<rect x="267.6" y="357" width="4" height="2" fill="#fff"/>
<rect x="160" y="305.5" width="23" height="19.5" fill="#fff"/>
<rect x="160" y="381.6" width="18" height="18" fill="#fff"/>
<rect x="254" y="310.3" width="40" height="15" fill="#fff"/>
<rect x="254" y="381" width="40" height="18" fill="#fff"/>
<path d="M187,287 C190,285 192,285 192.2,285.5 C196,290 199,298 199.6,308.3 L194.1,308.3 C194,300 192,293 187,287 Z" fill="#fff" stroke="#222" stroke-width="1.25" stroke-linejoin="round"/>
<rect x="194.1" y="308.3" width="5.5" height="8.1" fill="#fff" stroke="#222" stroke-width="1.25" stroke-linejoin="round"/>
<path d="M246.3,286.5 C243,285 241,285 240.3,285.5 C236,290 235,298 234.9,308.3 L240.4,308.3 C240.6,300 242,293 246.3,286.5 Z" fill="#fff" stroke="#222" stroke-width="1.25" stroke-linejoin="round"/>
<rect x="234.9" y="308.3" width="5.5" height="8.1" fill="#fff" stroke="#222" stroke-width="1.25" stroke-linejoin="round"/>
<rect x="214.6" y="280.5" width="4.5" height="28.3" fill="#fff" stroke="#222" stroke-width="1.25" stroke-linejoin="round"/>
<rect x="214.6" y="279.8" width="4.5" height="2.6" fill="#222"/>
<rect x="214.6" y="308.8" width="4.5" height="7.6" fill="#fff" stroke="#222" stroke-width="1.25" stroke-linejoin="round"/>
<line x1="205.5" y1="290.5" x2="205.5" y2="304" stroke="#1a1a1a" stroke-width="1.2"/>
<path d="M203.2,303.6 L207.8,303.6 L205.5,316.4 Z" fill="#fff" stroke="#1a1a1a" stroke-width="1.1" stroke-linejoin="round"/>
<line x1="227.2" y1="290.5" x2="227.2" y2="304" stroke="#1a1a1a" stroke-width="1.2"/>
<path d="M224.89999999999998,303.6 L229.5,303.6 L227.2,316.4 Z" fill="#fff" stroke="#1a1a1a" stroke-width="1.1" stroke-linejoin="round"/>
<line x1="247.5" y1="290.5" x2="247.5" y2="304" stroke="#1a1a1a" stroke-width="1.2"/>
<path d="M245.2,303.6 L249.8,303.6 L247.5,316.4 Z" fill="#fff" stroke="#1a1a1a" stroke-width="1.1" stroke-linejoin="round"/>
<circle cx="217.5" cy="328.4" r="5.7" fill="#fff" stroke="#111" stroke-width="1.9"/>
<line x1="217.5" y1="323.5" x2="217.5" y2="328.4" stroke="#111" stroke-width="1.2"/>
<line x1="213.7" y1="328.4" x2="221.3" y2="328.4" stroke="#111" stroke-width="1.4"/>
<path d="M214.7,328.4 L220.3,328.4 L218.7,331.59999999999997 L216.3,331.59999999999997 Z" fill="#111"/>
<circle cx="217.5" cy="411.6" r="5.7" fill="#fff" stroke="#111" stroke-width="1.9"/>
<line x1="217.5" y1="416.5" x2="217.5" y2="411.6" stroke="#111" stroke-width="1.2"/>
<line x1="213.7" y1="411.6" x2="221.3" y2="411.6" stroke="#111" stroke-width="1.4"/>
<path d="M214.7,411.6 L220.3,411.6 L218.7,408.40000000000003 L216.3,408.40000000000003 Z" fill="#111"/>
<line x1="217.5" y1="411.6" x2="217.5" y2="416.5" stroke="#111" stroke-width="1.2"/>
<rect x="187.4" y="337" width="17.099999999999994" height="46.3" fill="#fff" stroke="#333" stroke-width="1.1"/>
<circle cx="195.95" cy="350.1" r="7.7" fill="#fff" stroke="#4a4a4a" stroke-width="2.2"/>
<line x1="193.64999999999998" y1="343.1" x2="193.64999999999998" y2="357.1" stroke="#222" stroke-width="1"/>
<line x1="198.25" y1="343.1" x2="198.25" y2="357.1" stroke="#222" stroke-width="1"/>
<circle cx="195.95" cy="370.2" r="7.7" fill="#fff" stroke="#4a4a4a" stroke-width="2.2"/>
<line x1="193.64999999999998" y1="363.2" x2="193.64999999999998" y2="377.2" stroke="#222" stroke-width="1"/>
<line x1="198.25" y1="363.2" x2="198.25" y2="377.2" stroke="#222" stroke-width="1"/>
<rect x="208.5" y="337" width="16.900000000000006" height="46.3" fill="#fff" stroke="#333" stroke-width="1.1"/>
<circle cx="216.95" cy="350.1" r="7.7" fill="#fff" stroke="#4a4a4a" stroke-width="2.2"/>
<line x1="214.64999999999998" y1="343.1" x2="214.64999999999998" y2="357.1" stroke="#222" stroke-width="1"/>
<line x1="219.25" y1="343.1" x2="219.25" y2="357.1" stroke="#222" stroke-width="1"/>
<circle cx="216.95" cy="370.2" r="7.7" fill="#fff" stroke="#4a4a4a" stroke-width="2.2"/>
<line x1="214.64999999999998" y1="363.2" x2="214.64999999999998" y2="377.2" stroke="#222" stroke-width="1"/>
<line x1="219.25" y1="363.2" x2="219.25" y2="377.2" stroke="#222" stroke-width="1"/>
<rect x="229.1" y="337" width="16.700000000000017" height="46.3" fill="#fff" stroke="#333" stroke-width="1.1"/>
<circle cx="237.45" cy="350.1" r="7.7" fill="#fff" stroke="#4a4a4a" stroke-width="2.2"/>
<line x1="235.14999999999998" y1="343.1" x2="235.14999999999998" y2="357.1" stroke="#222" stroke-width="1"/>
<line x1="239.75" y1="343.1" x2="239.75" y2="357.1" stroke="#222" stroke-width="1"/>
<circle cx="237.45" cy="370.2" r="7.7" fill="#fff" stroke="#4a4a4a" stroke-width="2.2"/>
<line x1="235.14999999999998" y1="363.2" x2="235.14999999999998" y2="377.2" stroke="#222" stroke-width="1"/>
<line x1="239.75" y1="363.2" x2="239.75" y2="377.2" stroke="#222" stroke-width="1"/>
<path d="M194,383.5 L201,383.5 C202,392 200,398 198.5,400.5 C196,399 194,401 191,400 C193,396 195,390 194,383.5 Z" fill="#fff" stroke="#222" stroke-width="1.25" stroke-linejoin="round"/>
<path d="M212.2,383.5 L219.5,383.5 L219.5,399.5 C217,398 215,399.5 212.2,399.5 Z" fill="#fff" stroke="#222" stroke-width="1.25" stroke-linejoin="round"/>
<path d="M232.5,383.5 L239.5,383.5 C239,390 240,396 243,399.5 C240,400 238,399 236,400.5 C233,397 231,392 232.5,383.5 Z" fill="#fff" stroke="#222" stroke-width="1.25" stroke-linejoin="round"/>
<text x="11" y="26" font-size="15" font-weight="normal" fill="#1a1a1a" textLength="166" lengthAdjust="spacingAndGlyphs" >Инструкция по сборке:</text>
<text x="526" y="26" font-size="22" font-weight="normal" fill="#111" textLength="236" lengthAdjust="spacingAndGlyphs" stroke="#111" stroke-width="0.2">Габаритные размеры</text>
<text x="317.5" y="105.3" font-size="18" font-weight="normal" fill="#111" textLength="181.5" lengthAdjust="spacingAndGlyphs" stroke="#111" stroke-width="0.2">1 Настенный анкер</text>
<text x="317.5" y="128.3" font-size="18" font-weight="normal" fill="#111" textLength="236.5" lengthAdjust="spacingAndGlyphs" stroke="#111" stroke-width="0.2">2 Самонарезающий винт</text>
<text x="317.5" y="152.3" font-size="18" font-weight="normal" fill="#111" textLength="88.5" lengthAdjust="spacingAndGlyphs" stroke="#111" stroke-width="0.2">3 Клемма</text>
<text x="317.5" y="175.8" font-size="18" font-weight="normal" fill="#111" textLength="69" lengthAdjust="spacingAndGlyphs" stroke="#111" stroke-width="0.2">4 Гайка</text>
<text x="353.5" y="244" font-size="21.5" font-weight="normal" fill="#111" textLength="139.5" lengthAdjust="spacingAndGlyphs" stroke="#111" stroke-width="0.2">Размер базы</text>
<text x="394" y="295.6" font-size="14" font-weight="normal" fill="#1a1a1a" textLength="32.5" lengthAdjust="spacingAndGlyphs" >D 60</text>
<text x="430" y="333.2" font-size="14" font-weight="normal" fill="#1a1a1a" textLength="32.5" lengthAdjust="spacingAndGlyphs" >H 90</text>
<text x="103.4" y="453.1" font-size="14.5" fill="#111" textLength="193" lengthAdjust="spacing" stroke="#111" stroke-width="0.2">Фаза--коричневая</text>
<text x="103.4" y="470.5" font-size="14.5" font-weight="normal" fill="#111" textLength="213" lengthAdjust="spacingAndGlyphs" stroke="#111" stroke-width="0.2">Нейтральный провод--Серый</text>
<text x="103.4" y="487.6" font-size="14.5" font-weight="normal" fill="#111" textLength="154" lengthAdjust="spacingAndGlyphs" stroke="#111" stroke-width="0.2">Заземление --Желтое</text>
<text x="282" y="529.2" font-size="15.5" font-weight="normal" fill="#1a1a1a" textLength="237" lengthAdjust="spacingAndGlyphs" >Артикул товара: AMIGO SP LED</text>
<text x="105.5" y="316" font-size="12" font-weight="normal" fill="#111" textLength="75" lengthAdjust="spacingAndGlyphs" stroke="#111" stroke-width="0.2">Нейтральный</text>
<text x="105.5" y="329.1" font-size="12" font-weight="normal" fill="#111" textLength="41" lengthAdjust="spacingAndGlyphs" stroke="#111" stroke-width="0.2">провод</text>
<text x="100" y="395" font-size="12" font-weight="normal" fill="#111" textLength="75" lengthAdjust="spacingAndGlyphs" stroke="#111" stroke-width="0.2">Нейтральный</text>
<text x="100" y="408" font-size="12" font-weight="normal" fill="#111" textLength="41" lengthAdjust="spacingAndGlyphs" stroke="#111" stroke-width="0.2">провод</text>
<text x="255.3" y="319.1" font-size="12.5" fill="#111" textLength="37" lengthAdjust="spacing" stroke="#111" stroke-width="0.2">Фаза</text>
<text x="255.3" y="395" font-size="12.5" fill="#111" textLength="37" lengthAdjust="spacing" stroke="#111" stroke-width="0.2">Фаза</text>
<text x="198.5" y="270" font-size="12" font-weight="normal" fill="#111" textLength="66" lengthAdjust="spacingAndGlyphs" stroke="#111" stroke-width="0.2">Заземление</text>
<text x="44.5" y="96.9" font-size="20.5" font-weight="bold" fill="#111" stroke="#111" stroke-width="0.6">1</text>
<text x="42.5" y="164.5" font-size="20.5" font-weight="bold" fill="#111" stroke="#111" stroke-width="0.6">2</text>
<text x="201" y="207" font-size="20.5" font-weight="bold" fill="#111" stroke="#111" stroke-width="0.6">3</text>
<text x="42.5" y="204.4" font-size="20.5" font-weight="bold" fill="#111" stroke="#111" stroke-width="0.6">4</text>
<text x="0" y="0" font-size="18" fill="#111" textLength="61.6" lengthAdjust="spacingAndGlyphs" stroke="#111" stroke-width="0.25" transform="translate(575.5,230.9) rotate(90)">W 2000</text>
<text x="0" y="0" font-size="17.5" fill="#111" textLength="47" lengthAdjust="spacingAndGlyphs" stroke="#111" stroke-width="0.25" transform="translate(720,378) rotate(90)">H 120</text>
<text x="618.2" y="472.3" font-size="17" font-weight="normal" fill="#111" textLength="43" lengthAdjust="spacingAndGlyphs" stroke="#111" stroke-width="0.2">E 125</text>
</svg>
</body></html>
